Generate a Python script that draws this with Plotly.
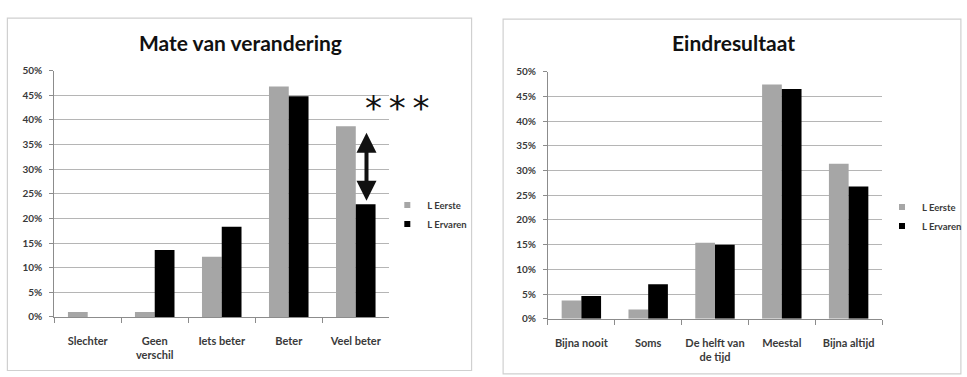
import plotly.graph_objects as go

W, H = 967, 377

# Series shared by both panels
series_names = ["L Eerste", "L Ervaren"]
series_colors = ["#a6a6a6", "#000000"]

# Panel 1: Mate van verandering
change_title = "Mate van verandering"
change_categories = ["Slechter", "Geen<br>verschil", "Iets beter", "Beter", "Veel beter"]
change_eerste = [0.010, 0.010, 0.122, 0.468, 0.387]
change_ervaren = [0.000, 0.136, 0.183, 0.448, 0.229]

# Panel 2: Eindresultaat
result_title = "Eindresultaat"
result_categories = ["Bijna nooit", "Soms", "De helft van<br>de tijd", "Meestal", "Bijna altijd"]
result_eerste = [0.037, 0.019, 0.154, 0.474, 0.314]
result_ervaren = [0.046, 0.070, 0.150, 0.465, 0.268]

y_tick_values = [0.0, 0.05, 0.10, 0.15, 0.20, 0.25, 0.30, 0.35, 0.40, 0.45, 0.50]

FONT = "Lato"
TEXT_COLOR = "#3a3a3a"
GRID_COLOR = "#b5b5b5"


def px_x(p):
    return p / W


def px_y(p):
    return 1 - p / H


def bold(s):
    return "<b>" + s.replace("<br>", "</b><br><b>") + "</b>"


fig = go.Figure()

panels = [
    (change_categories, [change_eerste, change_ervaren], "x", "y", "legend"),
    (result_categories, [result_eerste, result_ervaren], "x2", "y2", "legend2"),
]

for cats, values, xa, ya, leg in panels:
    for name, color, vals in zip(series_names, series_colors, values):
        fig.add_trace(go.Bar(
            x=cats, y=vals, name=name, marker=dict(color=color, line=dict(width=0)),
            xaxis=xa, yaxis=ya, showlegend=False, legendgroup=leg + name,
        ))
        # small square legend key
        fig.add_trace(go.Scatter(
            x=[None], y=[None], mode="markers", name=bold(name),
            marker=dict(symbol="square", size=6, color=color),
            xaxis=xa, yaxis=ya, legend=leg, legendgroup=leg + name,
        ))

axis_common = dict(
    showgrid=False, showline=True, linecolor="#8c8c8c", linewidth=1,
    ticks="outside", ticklen=5, tickcolor="#8c8c8c", tickson="boundaries",
    tickangle=0, fixedrange=True, range=[-0.5, 4.5], ticklabelstandoff=14,
    tickfont=dict(family=FONT, size=11, color=TEXT_COLOR),
)
yaxis_common = dict(
    range=[0, 0.5], tickvals=y_tick_values,
    ticktext=[bold(f"{round(v * 100)}%") for v in y_tick_values],
    showgrid=True, gridcolor=GRID_COLOR, gridwidth=1, zeroline=False,
    showline=True, linecolor="#8c8c8c", linewidth=1,
    ticks="outside", ticklen=4, tickcolor="#8c8c8c", ticklabelstandoff=5,
    tickfont=dict(family=FONT, size=10, color=TEXT_COLOR), fixedrange=True,
)

legend_common = dict(
    font=dict(family=FONT, size=9.5, color=TEXT_COLOR),
    bgcolor="rgba(0,0,0,0)", itemwidth=30, tracegroupgap=2,
    xanchor="left", yanchor="middle", traceorder="normal",
)

fig.update_layout(
    width=W, height=H,
    margin=dict(l=0, r=0, t=0, b=0),
    paper_bgcolor="white", plot_bgcolor="white",
    barmode="group", bargap=0.41, bargroupgap=0.0,
    xaxis=dict(domain=[px_x(55), px_x(395)], anchor="y",
               tickvals=change_categories, ticktext=[bold(c) for c in change_categories],
               **axis_common),
    yaxis=dict(domain=[px_y(321), px_y(66)], anchor="x", **yaxis_common),
    xaxis2=dict(domain=[px_x(556), px_x(895)], anchor="y2",
                tickvals=result_categories, ticktext=[bold(c) for c in result_categories],
                **axis_common),
    yaxis2=dict(domain=[px_y(323), px_y(67)], anchor="x2", **yaxis_common),
    legend=dict(x=px_x(393), y=px_y(215), **legend_common),
    legend2=dict(x=px_x(895), y=px_y(217), **legend_common),
    shapes=[
        dict(type="rect", xref="paper", yref="paper",
             x0=px_x(7.5), x1=px_x(478.5), y0=px_y(376.5), y1=px_y(11.5),
             line=dict(color="#d0d0d0", width=1.2), fillcolor="rgba(0,0,0,0)", layer="below"),
        dict(type="rect", xref="paper", yref="paper",
             x0=px_x(510.5), x1=px_x(975), y0=px_y(380), y1=px_y(12.5),
             line=dict(color="#d0d0d0", width=1.2), fillcolor="rgba(0,0,0,0)", layer="below"),
    ],
    annotations=[
        dict(text="<b>" + change_title + "</b>", xref="paper", yref="paper",
             x=px_x(244), y=px_y(37), xanchor="center", yanchor="middle", showarrow=False,
             font=dict(family=FONT, size=21, color="#111111")),
        dict(text="<b>" + result_title + "</b>", xref="paper", yref="paper",
             x=px_x(744), y=px_y(37), xanchor="center", yanchor="middle", showarrow=False,
             font=dict(family=FONT, size=21, color="#111111")),
        # significance marker between the two "Veel beter" bars
        dict(x=4.16, y=0.236, ax=4.16, ay=0.377, xref="x", yref="y",
             axref="x", ayref="y", text="", showarrow=True,
             arrowhead=2, startarrowhead=2, arrowside="end+start",
             arrowsize=1.0, startarrowsize=1.0, arrowwidth=4, arrowcolor="#111111"),
        dict(text="*\u2009*\u2009*", xref="paper", yref="y", x=px_x(403), y=0.425,
             showarrow=False, xanchor="center", yanchor="middle",
             font=dict(family="DejaVu Sans", size=34, color="#111111")),
    ],
)

fig.write_html("out.html")
